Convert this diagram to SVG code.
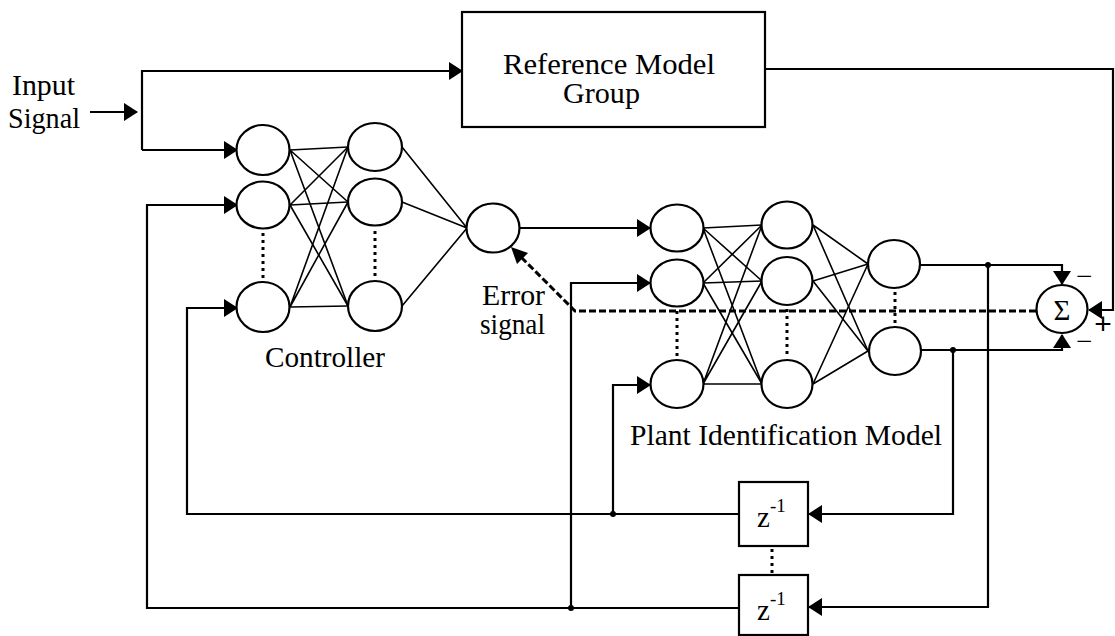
<svg xmlns="http://www.w3.org/2000/svg" width="1115" height="636" viewBox="0 0 1115 636">
<style>
.n{fill:#fff;stroke:#000;stroke-width:2.2}
.w{fill:none;stroke:#000;stroke-width:2.2}
.l{fill:none;stroke:#000;stroke-width:1.6}
.t{font-family:"Liberation Serif","Times New Roman",serif;font-size:29px;fill:#000}
.dot{fill:none;stroke:#000;stroke-width:3;stroke-dasharray:3 4}
.dash{fill:none;stroke:#000;stroke-width:3;stroke-dasharray:7 3}
.j{fill:#000}
</style>
<defs>
<marker id="ah" markerUnits="userSpaceOnUse" markerWidth="14" markerHeight="18" viewBox="0 0 14 18" refX="13" refY="9" orient="auto">
<path d="M0,0 L14,9 L0,18 Z" fill="#000"/>
</marker>
</defs>
<rect width="1115" height="636" fill="#fff"/>

<g id="connectors">
<path class="w" d="M90,112 H137" marker-end="url(#ah)"/>
<path class="w" d="M142,150 V71 H462" marker-end="url(#ah)"/>
<path class="w" d="M142,150 H237" marker-end="url(#ah)"/>
<path class="w" d="M765,69 H1113 V310 H1089" marker-end="url(#ah)"/>
<path class="w" d="M739,608 H147 V205 H237" marker-end="url(#ah)"/>
<path class="w" d="M739,514 H187 V308 H237" marker-end="url(#ah)"/>
<path class="w" d="M571,608 V283 H650" marker-end="url(#ah)"/>
<path class="w" d="M613,514 V385 H650" marker-end="url(#ah)"/>
<path class="w" d="M520,228 H650" marker-end="url(#ah)"/>
<path class="w" d="M920,265 H1062 V284" marker-end="url(#ah)"/>
<path class="w" d="M921,350 H1062 V335" marker-end="url(#ah)"/>
<path class="w" d="M988,265 V607 H809" marker-end="url(#ah)"/>
<path class="w" d="M953,350 V514 H809" marker-end="url(#ah)"/>
<circle class="j" cx="571" cy="608" r="3"/>
<circle class="j" cx="613" cy="514" r="3"/>
<circle class="j" cx="988" cy="265" r="3"/>
<circle class="j" cx="953" cy="350" r="3"/>
<path class="dash" d="M1036,311 H575 L516,252"/>
<path d="M511,247 L528,253 L517,264 Z" fill="#000"/>
<g class="l">
<path d="M290,150 L348,147 M290,150 L348,202 M290,150 L348,306"/>
<path d="M290,205 L348,147 M290,205 L348,202 M290,205 L348,306"/>
<path d="M290,307 L348,147 M290,307 L348,202 M290,307 L348,306"/>
<path d="M402,147 L467,228 M402,202 L467,228 M402,306 L467,228"/>
<path d="M703,228 L762,225 M703,228 L762,281 M703,228 L762,384"/>
<path d="M703,283 L762,225 M703,283 L762,281 M703,283 L762,384"/>
<path d="M703,384 L762,225 M703,384 L762,281 M703,384 L762,384"/>
<path d="M813,225 L868,264 M813,225 L868,351"/>
<path d="M813,281 L868,264 M813,281 L868,351"/>
<path d="M813,384 L868,264 M813,384 L868,351"/>
</g>
<path class="dot" d="M263,233 V280 M375,231 V279 M677,311 V357 M787,309 V357 M895,292 V326 M772,549 V574"/>
</g>

<g id="input-label">
<text class="t" x="12" y="95" textLength="63" lengthAdjust="spacingAndGlyphs">Input</text>
<text class="t" x="8" y="128" textLength="72" lengthAdjust="spacingAndGlyphs">Signal</text>
</g>

<g id="reference-model">
<rect class="n" x="462" y="12" width="303" height="115"/>
<text class="t" x="503" y="74" font-size="25" textLength="212" lengthAdjust="spacingAndGlyphs">Reference Model</text>
<text class="t" x="563" y="103" font-size="25" textLength="77" lengthAdjust="spacingAndGlyphs">Group</text>
</g>

<g id="controller">
<g id="ctrl-in-1"><ellipse class="n" cx="263" cy="150" rx="26.5" ry="25"/></g>
<g id="ctrl-in-2"><ellipse class="n" cx="263" cy="205" rx="26.5" ry="23.5"/></g>
<g id="ctrl-in-3"><ellipse class="n" cx="263" cy="307" rx="26.5" ry="25"/></g>
<g id="ctrl-hid-1"><ellipse class="n" cx="375" cy="147" rx="27" ry="24"/></g>
<g id="ctrl-hid-2"><ellipse class="n" cx="375" cy="202" rx="27" ry="23.5"/></g>
<g id="ctrl-hid-3"><ellipse class="n" cx="375" cy="306" rx="27" ry="25"/></g>
<g id="ctrl-out"><ellipse class="n" cx="493" cy="228" rx="26.5" ry="24.5"/></g>
<text class="t" x="265" y="367" textLength="120" lengthAdjust="spacingAndGlyphs">Controller</text>
</g>

<g id="error-label">
<text class="t" x="482" y="305" font-size="23" textLength="63" lengthAdjust="spacingAndGlyphs">Error</text>
<text class="t" x="480" y="334" font-size="23" textLength="65" lengthAdjust="spacingAndGlyphs">signal</text>
</g>

<g id="plant">
<g id="plant-in-1"><ellipse class="n" cx="677" cy="228" rx="26.5" ry="23.5"/></g>
<g id="plant-in-2"><ellipse class="n" cx="677" cy="283" rx="26.5" ry="23.5"/></g>
<g id="plant-in-3"><ellipse class="n" cx="677" cy="384" rx="26.5" ry="24"/></g>
<g id="plant-hid-1"><ellipse class="n" cx="787" cy="225" rx="25.5" ry="23.5"/></g>
<g id="plant-hid-2"><ellipse class="n" cx="787" cy="281" rx="25.5" ry="24"/></g>
<g id="plant-hid-3"><ellipse class="n" cx="787" cy="384" rx="25.5" ry="24"/></g>
<g id="plant-out-1"><ellipse class="n" cx="894" cy="264" rx="26" ry="24"/></g>
<g id="plant-out-2"><ellipse class="n" cx="895" cy="351" rx="26" ry="24"/></g>
<text class="t" x="630" y="445" textLength="312" lengthAdjust="spacingAndGlyphs">Plant Identification Model</text>
</g>

<g id="sum">
<ellipse class="n" cx="1062" cy="309" rx="25.5" ry="24"/>
<text class="t" x="1062" y="320" text-anchor="middle" font-size="30">Σ</text>
<text class="t" x="1076" y="286" font-size="24">−</text>
<text class="t" x="1076" y="351" font-size="24">−</text>
<text x="1103" y="334" text-anchor="middle" font-family="'Liberation Sans',Arial,sans-serif" font-size="30" fill="#000">+</text>
</g>

<g id="delay-1">
<rect class="n" x="739" y="482" width="69" height="64"/>
<text class="t" x="757" y="527" font-size="27">z<tspan font-size="19" dy="-15">-1</tspan></text>
</g>

<g id="delay-2">
<rect class="n" x="739" y="575" width="69" height="60"/>
<text class="t" x="757" y="620" font-size="27">z<tspan font-size="19" dy="-15">-1</tspan></text>
</g>
</svg>
